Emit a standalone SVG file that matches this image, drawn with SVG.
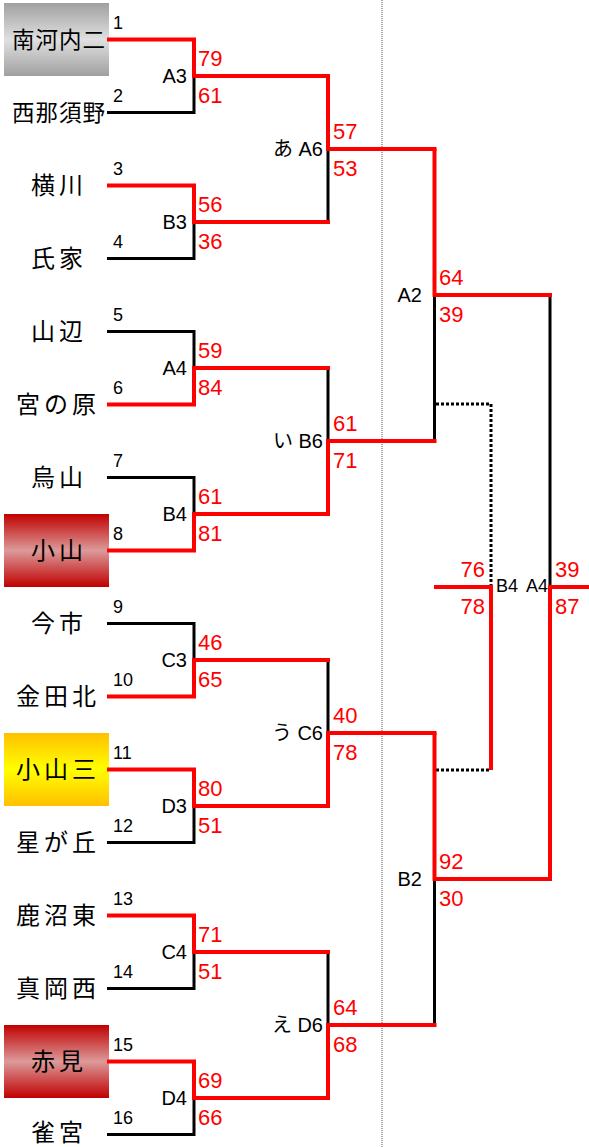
<svg xmlns="http://www.w3.org/2000/svg" width="589" height="1147" viewBox="0 0 589 1147">
<style>
.name{font-family:"Noto Sans CJK JP",sans-serif;font-size:24px;fill:#000}
.n4{font-size:22.5px}
.num{font-family:"Liberation Sans",Arial,sans-serif;font-size:18px;fill:#000}
.lbl{font-family:"Liberation Sans","Noto Sans CJK JP",sans-serif;font-size:20px;fill:#000;text-anchor:end}
.sm{font-family:"Liberation Sans",sans-serif;font-size:18px;fill:#000}
.sc{font-family:"Liberation Sans",Arial,sans-serif;font-size:22px;fill:#f00}
.sr{text-anchor:end}
.w{stroke:#f00;stroke-width:4;fill:none}
.l{stroke:#000;stroke-width:3;fill:none}
.d{stroke:#000;stroke-width:3;stroke-dasharray:3 2;fill:none}
.g{stroke:#555;stroke-width:1;stroke-dasharray:1 1;fill:none}
</style>
<defs>
<linearGradient id="gGray" x1="0" y1="0" x2="0" y2="1"><stop offset="0" stop-color="#a0a0a0"/><stop offset="0.5" stop-color="#e0e0e0"/><stop offset="1" stop-color="#a0a0a0"/></linearGradient>
<linearGradient id="gRed" x1="0" y1="0" x2="0" y2="1"><stop offset="0" stop-color="#c00000"/><stop offset="0.5" stop-color="#dc9a9a"/><stop offset="1" stop-color="#c00000"/></linearGradient>
<linearGradient id="gYel" x1="0" y1="0" x2="0" y2="1"><stop offset="0" stop-color="#ffc000"/><stop offset="0.5" stop-color="#ffff00"/><stop offset="1" stop-color="#ffc000"/></linearGradient>
</defs>
<line class="g" x1="382" y1="0" x2="382" y2="1147"/>
<g id="t1"><rect x="4" y="3" width="105" height="73" fill="url(#gGray)"/><text class="name n4" x="12 35.5 59 82.5" y="47.5">南河内二</text><text class="num" x="113" y="28.5">1</text></g>
<g id="t2"><text class="name n4" x="12 35.5 59 82.5" y="120.5">西那須野</text><text class="num" x="113" y="101.5">2</text></g>
<g id="t3"><text class="name" x="31 59" y="194">横川</text><text class="num" x="113" y="174.5">3</text></g>
<g id="t4"><text class="name" x="31 59" y="267">氏家</text><text class="num" x="113" y="247.5">4</text></g>
<g id="t5"><text class="name" x="31 59" y="340">山辺</text><text class="num" x="113" y="320.5">5</text></g>
<g id="t6"><text class="name" x="16 44 72" y="413">宮の原</text><text class="num" x="113" y="393.5">6</text></g>
<g id="t7"><text class="name" x="31 59" y="486">烏山</text><text class="num" x="113" y="466.5">7</text></g>
<g id="t8"><rect x="4" y="514" width="105" height="73" fill="url(#gRed)"/><text class="name" x="31 59" y="559">小山</text><text class="num" x="113" y="539.5">8</text></g>
<g id="t9"><text class="name" x="31 59" y="632">今市</text><text class="num" x="113" y="612.5">9</text></g>
<g id="t10"><text class="name" x="16 44 72" y="705">金田北</text><text class="num" x="113" y="685.5">10</text></g>
<g id="t11"><rect x="4" y="733" width="105" height="73" fill="url(#gYel)"/><text class="name" x="16 44 72" y="778">小山三</text><text class="num" x="113" y="758.5">11</text></g>
<g id="t12"><text class="name" x="16 44 72" y="851">星が丘</text><text class="num" x="113" y="831.5">12</text></g>
<g id="t13"><text class="name" x="16 44 72" y="924">鹿沼東</text><text class="num" x="113" y="904.5">13</text></g>
<g id="t14"><text class="name" x="16 44 72" y="997">真岡西</text><text class="num" x="113" y="977.5">14</text></g>
<g id="t15"><rect x="4" y="1025" width="105" height="73" fill="url(#gRed)"/><text class="name" x="31 59" y="1070">赤見</text><text class="num" x="113" y="1050.5">15</text></g>
<g id="t16"><text class="name" x="31 59" y="1141">雀宮</text><text class="num" x="113" y="1123.5">16</text></g>
<g id="connectors">
<path class="l" d="M107 112.5H194V76M107 258.5H194V222M107 331.5H194V368M107 477.5H194V514M107 623.5H194V660M107 842.5H194V806M107 988.5H194V952M107 1134.5H194V1098"/>
<path class="l" d="M328 222V149M328 368V441M328 660V733M328 952V1025M434.5 441V295M434.5 1025V879M550 295V587"/>
<path class="d" d="M436 404H491V587M436 770H491"/>
<path class="w" d="M107 39.5H194V76H330M107 185.5H194V222H330M107 404.5H194V368H330M107 550.5H194V514H330M107 696.5H194V660H330M107 769.5H194V806H330M107 915.5H194V952H330M107 1061.5H194V1098H330"/>
<path class="w" d="M328 76V149H436.5M328 514V441H436.5M328 806V733H436.5M328 1098V1025H436.5"/>
<path class="w" d="M434.5 149V295H552M434.5 733V879H552"/>
<path class="w" d="M550 879V587H589"/>
<path class="w" d="M491 770V587H434"/>
</g>
<g id="A3"><text class="lbl" x="187" y="83">A3</text><text class="sc" x="198" y="66">79</text><text class="sc" x="198" y="103">61</text></g>
<g id="B3"><text class="lbl" x="187" y="229">B3</text><text class="sc" x="198" y="212">56</text><text class="sc" x="198" y="249">36</text></g>
<g id="A4"><text class="lbl" x="187" y="375">A4</text><text class="sc" x="198" y="358">59</text><text class="sc" x="198" y="395">84</text></g>
<g id="B4"><text class="lbl" x="187" y="521">B4</text><text class="sc" x="198" y="504">61</text><text class="sc" x="198" y="541">81</text></g>
<g id="C3"><text class="lbl" x="187" y="667">C3</text><text class="sc" x="198" y="650">46</text><text class="sc" x="198" y="687">65</text></g>
<g id="D3"><text class="lbl" x="187" y="813">D3</text><text class="sc" x="198" y="796">80</text><text class="sc" x="198" y="833">51</text></g>
<g id="C4"><text class="lbl" x="187" y="959">C4</text><text class="sc" x="198" y="942">71</text><text class="sc" x="198" y="979">51</text></g>
<g id="D4"><text class="lbl" x="187" y="1105">D4</text><text class="sc" x="198" y="1088">69</text><text class="sc" x="198" y="1125">66</text></g>
<g id="A6"><text class="lbl" x="323" y="156">あ A6</text><text class="sc" x="333" y="139">57</text><text class="sc" x="333" y="176">53</text></g>
<g id="B6"><text class="lbl" x="323" y="448">い B6</text><text class="sc" x="333" y="431">61</text><text class="sc" x="333" y="468">71</text></g>
<g id="C6"><text class="lbl" x="323" y="740">う C6</text><text class="sc" x="333" y="723">40</text><text class="sc" x="333" y="760">78</text></g>
<g id="D6"><text class="lbl" x="323" y="1032">え D6</text><text class="sc" x="333" y="1015">64</text><text class="sc" x="333" y="1052">68</text></g>
<g id="A2"><text class="lbl" x="422" y="302">A2</text><text class="sc" x="439" y="285">64</text><text class="sc" x="439" y="322">39</text></g>
<g id="B2"><text class="lbl" x="422" y="886">B2</text><text class="sc" x="439" y="869">92</text><text class="sc" x="439" y="906">30</text></g>
<g id="final-B4"><text class="sm" x="496" y="592">B4</text><text class="sc sr" x="485" y="577">76</text><text class="sc sr" x="485" y="614">78</text></g>
<g id="final-A4"><text class="sm" x="526" y="592">A4</text><text class="sc" x="555" y="577">39</text><text class="sc" x="555" y="614">87</text></g>
</svg>
